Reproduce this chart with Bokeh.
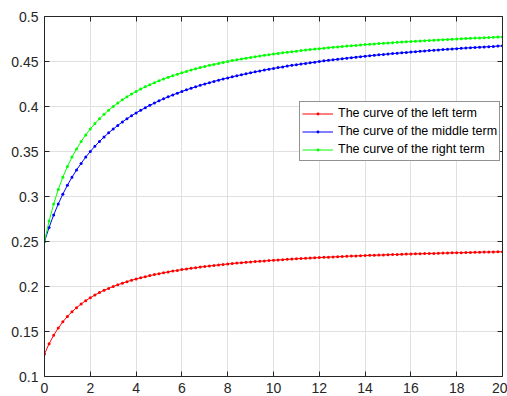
from bokeh.plotting import figure
from bokeh.models import (LinearAxis, FixedTicker, CustomJSTickFormatter, Legend,
                          LegendItem, Range1d)
from bokeh.embed import file_html
from bokeh.resources import INLINE

# ---------------- data ----------------
x_vals = [round(0.2 * i, 1) for i in range(101)]

left_term = [
    0.1250, 0.1364, 0.1458, 0.1538, 0.1607, 0.1667, 0.1719, 0.1765, 0.1806, 0.1842,
    0.1875, 0.1905, 0.1932, 0.1957, 0.1979, 0.2000, 0.2019, 0.2037, 0.2054, 0.2069,
    0.2083, 0.2097, 0.2109, 0.2121, 0.2132, 0.2143, 0.2153, 0.2162, 0.2171, 0.2179,
    0.2188, 0.2195, 0.2202, 0.2209, 0.2216, 0.2222, 0.2228, 0.2234, 0.2240, 0.2245,
    0.2250, 0.2255, 0.2260, 0.2264, 0.2269, 0.2273, 0.2277, 0.2281, 0.2284, 0.2288,
    0.2292, 0.2295, 0.2298, 0.2302, 0.2305, 0.2308, 0.2311, 0.2313, 0.2316, 0.2319,
    0.2321, 0.2324, 0.2326, 0.2329, 0.2331, 0.2333, 0.2336, 0.2338, 0.2340, 0.2342,
    0.2344, 0.2346, 0.2348, 0.2349, 0.2351, 0.2353, 0.2355, 0.2356, 0.2358, 0.2360,
    0.2361, 0.2363, 0.2364, 0.2366, 0.2367, 0.2368, 0.2370, 0.2371, 0.2372, 0.2374,
    0.2375, 0.2376, 0.2377, 0.2379, 0.2380, 0.2381, 0.2382, 0.2383, 0.2384, 0.2385,
    0.2386,
]

middle_term = [
    0.2500, 0.2656, 0.2794, 0.2917, 0.3026, 0.3125, 0.3214, 0.3295, 0.3368, 0.3438,
    0.3500, 0.3558, 0.3611, 0.3661, 0.3707, 0.3750, 0.3790, 0.3828, 0.3864, 0.3897,
    0.3929, 0.3958, 0.3986, 0.4013, 0.4038, 0.4063, 0.4085, 0.4107, 0.4128, 0.4148,
    0.4167, 0.4185, 0.4202, 0.4219, 0.4235, 0.4250, 0.4265, 0.4279, 0.4292, 0.4306,
    0.4318, 0.4330, 0.4342, 0.4353, 0.4364, 0.4375, 0.4385, 0.4395, 0.4405, 0.4414,
    0.4423, 0.4432, 0.4440, 0.4449, 0.4457, 0.4464, 0.4472, 0.4479, 0.4486, 0.4493,
    0.4500, 0.4507, 0.4513, 0.4519, 0.4525, 0.4531, 0.4537, 0.4543, 0.4548, 0.4554,
    0.4559, 0.4564, 0.4569, 0.4574, 0.4579, 0.4583, 0.4588, 0.4592, 0.4597, 0.4601,
    0.4605, 0.4609, 0.4613, 0.4617, 0.4621, 0.4625, 0.4629, 0.4632, 0.4636, 0.4639,
    0.4643, 0.4646, 0.4650, 0.4653, 0.4656, 0.4659, 0.4662, 0.4665, 0.4668, 0.4671,
    0.4674,
]

right_term = [
    0.2500, 0.2727, 0.2917, 0.3077, 0.3214, 0.3333, 0.3438, 0.3529, 0.3611, 0.3684,
    0.3750, 0.3810, 0.3864, 0.3913, 0.3958, 0.4000, 0.4038, 0.4074, 0.4107, 0.4138,
    0.4167, 0.4194, 0.4219, 0.4242, 0.4265, 0.4286, 0.4306, 0.4324, 0.4342, 0.4359,
    0.4375, 0.4390, 0.4405, 0.4419, 0.4432, 0.4444, 0.4457, 0.4468, 0.4479, 0.4490,
    0.4500, 0.4510, 0.4519, 0.4528, 0.4537, 0.4545, 0.4554, 0.4561, 0.4569, 0.4576,
    0.4583, 0.4590, 0.4597, 0.4603, 0.4609, 0.4615, 0.4621, 0.4627, 0.4632, 0.4638,
    0.4643, 0.4648, 0.4653, 0.4658, 0.4662, 0.4667, 0.4671, 0.4675, 0.4679, 0.4684,
    0.4688, 0.4691, 0.4695, 0.4699, 0.4702, 0.4706, 0.4709, 0.4713, 0.4716, 0.4719,
    0.4722, 0.4725, 0.4728, 0.4731, 0.4734, 0.4737, 0.4740, 0.4742, 0.4745, 0.4747,
    0.4750, 0.4752, 0.4755, 0.4757, 0.4760, 0.4762, 0.4764, 0.4766, 0.4769, 0.4771,
    0.4773,
]

series_labels = ["The curve of the left term",
                 "The curve of the middle term",
                 "The curve of the right term"]
series_colors = ["#ff0000", "#0000ff", "#00ff00"]

x_ticks = [0, 2, 4, 6, 8, 10, 12, 14, 16, 18, 20]
y_ticks = [0.1, 0.15, 0.2, 0.25, 0.3, 0.35, 0.4, 0.45, 0.5]

# ---------------- figure ----------------
FONT = "Liberation Sans"
AX_COL = "#262626"

p = figure(width=507, height=396, output_backend="svg", toolbar_location=None,
           x_range=Range1d(0, 20), y_range=Range1d(0.1, 0.5),
           min_border_left=44, min_border_right=5, min_border_top=16,
           min_border_bottom=20, x_axis_location=None, y_axis_location=None)
p.outline_line_color = None
p.background_fill_color = "white"
p.border_fill_color = "white"

yfmt = CustomJSTickFormatter(code="""
var s = tick.toFixed(2);
s = s.replace(/0+$/, '').replace(/\\.$/, '');
return s;
""")


def style_axis(ax, show_labels):
    ax.axis_line_color = AX_COL
    ax.axis_line_width = 1
    ax.major_tick_line_color = AX_COL
    ax.major_tick_in = 5
    ax.major_tick_out = 0
    ax.minor_tick_line_color = None
    ax.major_label_text_font = FONT
    ax.major_label_text_color = AX_COL
    if show_labels:
        ax.major_label_text_font_size = "14px"
        ax.major_label_standoff = 6
    else:
        ax.major_label_text_font_size = "1px"
        ax.major_label_text_color = None
        ax.major_label_standoff = 0


xb = LinearAxis(ticker=FixedTicker(ticks=x_ticks))
style_axis(xb, True)
p.add_layout(xb, "below")
xt = LinearAxis(ticker=FixedTicker(ticks=x_ticks))
style_axis(xt, False)
p.add_layout(xt, "above")

yl = LinearAxis(ticker=FixedTicker(ticks=y_ticks), formatter=yfmt)
style_axis(yl, True)
p.add_layout(yl, "left")
yr = LinearAxis(ticker=FixedTicker(ticks=y_ticks), formatter=yfmt)
style_axis(yr, False)
p.add_layout(yr, "right")

p.xgrid.ticker = FixedTicker(ticks=x_ticks)
p.ygrid.ticker = FixedTicker(ticks=y_ticks)
for g in (p.xgrid, p.ygrid):
    g.grid_line_color = "#e0e0e0"
    g.grid_line_width = 1

items = []
for ys, lab, col in zip([left_term, middle_term, right_term], series_labels, series_colors):
    ln = p.line(x_vals, ys, line_color=col, line_width=1)
    sc = p.scatter(x_vals, ys, marker="circle", size=3, fill_color=col,
                   line_color=None)
    items.append(LegendItem(label=lab, renderers=[ln, sc]))

legend = Legend(items=items, location=(255, 215))
legend.border_line_color = AX_COL
legend.border_line_width = 1
legend.background_fill_color = "white"
legend.background_fill_alpha = 1
legend.label_text_font = FONT
legend.label_text_font_size = "12.5px"
legend.label_text_color = "#000000"
legend.padding = 2
legend.spacing = 0
legend.margin = 0
legend.glyph_width = 31
legend.glyph_height = 7
legend.label_height = 18
legend.label_standoff = 5
p.add_layout(legend, "center")

open("out.html", "w").write(file_html(p, INLINE))
